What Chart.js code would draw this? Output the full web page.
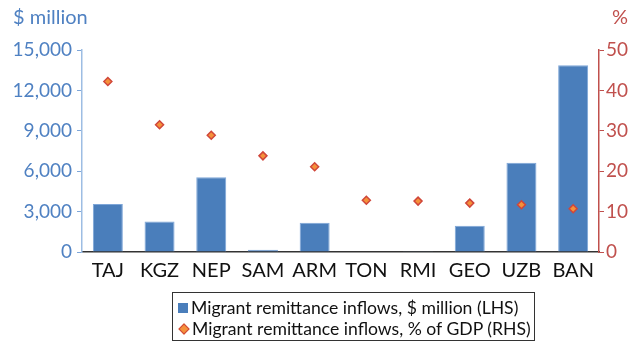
<!DOCTYPE html>
<html>
<head>
<meta charset="utf-8">
<script src="https://cdn.jsdelivr.net/npm/chart.js@4.4.1/dist/chart.umd.min.js"></script>
<style>
  html, body { margin: 0; padding: 0; background: #fff; }
  #wrap { position: relative; width: 629px; height: 345px; }
  #legend {
    position: absolute; left: 172px; top: 292px; width: 363px; height: 49px;
    border: 1px solid #333; box-sizing: border-box;
    font-family: Lato, "Open Sans", sans-serif; font-size: 17.6px; color: #111;
    padding: 4px 0 0 5px; line-height: 21px;
  }
  .row { display: flex; align-items: center; white-space: nowrap; }
  .sq { flex: 0 0 auto; width: 10px; height: 10px; background: #4a7ebb; margin-right: 3px; }
  .dm { flex: 0 0 auto; width: 6px; height: 6px; background: #f5913a; border: 1.5px solid #d0463a; transform: rotate(45deg); margin: 0 4px 0 2px; }
</style>
</head>
<body>
<div id="wrap">
  <canvas id="c" width="629" height="345"></canvas>
  <div id="legend">
    <div class="row"><span class="sq"></span>Migrant remittance inflows, $ million (LHS)</div>
    <div class="row"><span class="dm"></span>Migrant remittance inflows, % of GDP (RHS)</div>
  </div>
</div>
<script>
// Economies
const categories = ["TAJ", "KGZ", "NEP", "SAM", "ARM", "TON", "RMI", "GEO", "UZB", "BAN"];
// Migrant remittance inflows, $ million
const inflowsMillion = [3570, 2260, 5550, 170, 2180, 40, 20, 1940, 6630, 13870];
// Migrant remittance inflows, % of GDP
const inflowsPctGdp = [42.2, 31.5, 28.9, 23.8, 21.1, 12.8, 12.6, 12.1, 11.7, 10.7];

const leftTicks = [0, 3000, 6000, 9000, 12000, 15000];
const rightTicks = [0, 10, 20, 30, 40, 50];

const BLUE = "#4a7ebb";
const BLUE_TXT = "#4f81c2";
const RED = "#c0504d";
const FONT = "Lato, 'Open Sans', sans-serif";

// Axis unit captions above each y axis
const unitCaptions = {
  id: "unitCaptions",
  afterDraw(chart) {
    const ctx = chart.ctx;
    ctx.save();
    ctx.font = "20px " + FONT;
    ctx.textBaseline = "middle";
    ctx.fillStyle = BLUE_TXT;
    ctx.textAlign = "left";
    ctx.fillText("$ million", 13, 18);
    ctx.fillStyle = RED;
    ctx.fillText("%", 612, 18);
    ctx.restore();
  }
};

new Chart(document.getElementById("c"), {
  data: {
    labels: categories,
    datasets: [
      {
        type: "scatter",
        label: "Migrant remittance inflows, % of GDP (RHS)",
        data: inflowsPctGdp.map((v, i) => ({ x: categories[i], y: v })),
        yAxisID: "yR",
        xAxisID: "x",
        pointStyle: "rectRot",
        pointRadius: 4,
        backgroundColor: "#f5913a",
        borderColor: "#d0463a",
        borderWidth: 1.5,
        order: 0
      },
      {
        type: "bar",
        label: "Migrant remittance inflows, $ million (LHS)",
        data: inflowsMillion,
        yAxisID: "yL",
        backgroundColor: BLUE,
        borderColor: "#7ea6d8",
        borderWidth: 1,
        categoryPercentage: 1,
        barPercentage: 0.58,
        order: 1
      }
    ]
  },
  options: {
    responsive: false,
    animation: false,
    layout: { padding: { top: 50, left: 0, right: 0, bottom: 0 } },
    plugins: { legend: { display: false }, tooltip: { enabled: false } },
    scales: {
      x: {
        type: "category",
        labels: categories,
        offset: true,
        grid: { display: false, drawTicks: false },
        border: { display: true, color: "#333", width: 1.5 },
        ticks: { color: "#111", font: { family: FONT, size: 20 }, padding: 7 },
        afterFit(s) { s.height = 93; }
      },
      yL: {
        position: "left",
        min: 0, max: 15000,
        afterBuildTicks(s) { s.ticks = leftTicks.map(v => ({ value: v })); },
        grid: { drawOnChartArea: false, tickLength: 5, color: "#7ea6d8" },
        border: { color: "#9dbde3", width: 1.5 },
        ticks: {
          color: BLUE_TXT, font: { family: FONT, size: 19 }, padding: 5,
          callback: v => v.toLocaleString("en-US")
        },
        afterFit(s) { s.width = 82; }
      },
      yR: {
        position: "right",
        min: 0, max: 50,
        afterBuildTicks(s) { s.ticks = rightTicks.map(v => ({ value: v })); },
        grid: { drawOnChartArea: false, tickLength: 5, color: RED },
        border: { color: RED, width: 1.5 },
        ticks: { color: RED, font: { family: FONT, size: 19 }, padding: 2 },
        afterFit(s) { s.width = 30; }
      }
    }
  },
  plugins: [unitCaptions]
});
</script>
</body>
</html>
